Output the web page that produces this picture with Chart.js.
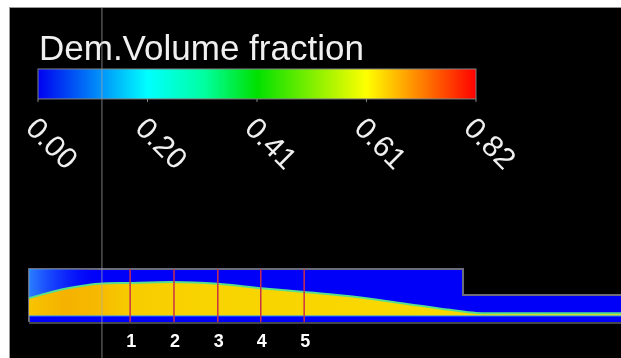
<!DOCTYPE html>
<html lang="en">
<head>
  <meta charset="UTF-8" />
  <title>Dem.Volume fraction</title>
  <script src="https://cdn.jsdelivr.net/npm/chart.js"></script>
  <style>
    html, body { margin: 0; padding: 0; background: #fff; }
    #frame {
      position: absolute; left: 9px; top: 7px;
      width: 612px; height: 351px;
      box-sizing: border-box;
      border-left: 1px solid #9a9a9a;
      border-top: 1px solid #9a9a9a;
      background: #000;
    }
    canvas { position: absolute; left: 0; top: 0; }
  </style>
</head>
<body>
  <div id="frame"><canvas id="field" width="611" height="350"></canvas></div>

  <script>
    // colour bar
    const cbTitle = "Dem.Volume fraction";
    const cbTicks = [0, 0.205, 0.41, 0.615, 0.82];
    const cbLabels = ["0.00", "0.20", "0.41", "0.61", "0.82"];

    // channel outline (length units along x, height units along y)
    const channelX = [0, 0, 100, 100, 137];
    const channelH = [0, 12.2, 12.2, 6.2, 6.2];

    // top of the particle bed
    const bedX = [0, 2.5, 7, 12, 16, 23, 33, 43.5, 53.5, 63.5, 75, 85.5, 97, 103, 110, 137];
    const bedH = [5.5, 6.2, 7.4, 8.3, 8.8, 9.0, 9.2, 8.8, 7.8, 6.9, 5.8, 4.4, 2.8, 2.1, 2.0, 2.0];
    const bedFloor = 1.4;

    // probe sections
    const probeX = [23.3, 33.4, 43.5, 53.4, 63.4];
    const probeLabels = ["1", "2", "3", "4", "5"];

    const cbTop = 58.3, cbBottom = 51.4;
    const font = '"Liberation Sans", Arial, sans-serif';

    function pts(xs, ys) { return xs.map((v, i) => ({ x: v, y: ys[i] })); }

    function jet(ctx) {
      const chart = ctx.chart;
      if (!chart.chartArea) return null;
      const s = chart.scales.xc;
      const g = chart.ctx.createLinearGradient(s.getPixelForValue(0), 0, s.getPixelForValue(0.82), 0);
      g.addColorStop(0, "#0000f0");
      g.addColorStop(0.25, "#00ffff");
      g.addColorStop(0.38, "#00ffa0");
      g.addColorStop(0.5, "#00e000");
      g.addColorStop(0.75, "#ffff00");
      g.addColorStop(1, "#ff0000");
      return g;
    }

    function bedFill(ctx) {
      const chart = ctx.chart;
      if (!chart.chartArea) return null;
      const s = chart.scales.x;
      const x0 = s.getPixelForValue(0), x1 = s.getPixelForValue(137);
      const g = chart.ctx.createLinearGradient(x0, 0, x1, 0);
      g.addColorStop(0, "#f8c400");
      g.addColorStop(0.06, "#f5b200");
      g.addColorStop(0.11, "#f6b800");
      g.addColorStop(0.17, "#f8cc00");
      g.addColorStop(0.3, "#f9d400");
      g.addColorStop(0.7, "#f9d800");
      g.addColorStop(1, "#ecdf10");
      return g;
    }

    function wedgeFill(ctx) {
      const chart = ctx.chart;
      if (!chart.chartArea) return null;
      const s = chart.scales.x;
      const g = chart.ctx.createLinearGradient(s.getPixelForValue(0), 0, s.getPixelForValue(17), 0);
      g.addColorStop(0, "rgba(50,150,255,0.85)");
      g.addColorStop(0.45, "rgba(30,90,255,0.5)");
      g.addColorStop(1, "rgba(0,0,250,0)");
      return g;
    }

    const labels = {
      id: "labels",
      beforeDatasetsDraw(chart) {
        const { ctx, scales: { x, y, xc } } = chart;
        const top = y.getPixelForValue(cbTop), bot = y.getPixelForValue(cbBottom);
        ctx.save();
        ctx.fillStyle = "#f0f0f0";
        ctx.font = "35px " + font;
        ctx.textBaseline = "alphabetic";
        ctx.fillText(cbTitle, xc.getPixelForValue(0) + 1, top - 9);

        ctx.font = "30px " + font;
        cbTicks.forEach((t, i) => {
          const px = xc.getPixelForValue(t);
          ctx.strokeStyle = "#888";
          ctx.lineWidth = 1;
          ctx.beginPath();
          ctx.moveTo(px, bot);
          ctx.lineTo(px, bot + 3);
          ctx.stroke();
          ctx.save();
          ctx.translate(px - 8, bot + 25);
          ctx.rotate(Math.PI / 4);
          ctx.textAlign = "left";
          ctx.textBaseline = "middle";
          ctx.fillText(cbLabels[i], 0, 0);
          ctx.restore();
        });

        ctx.fillStyle = "#ffffff";
        ctx.font = "bold 18px " + font;
        ctx.textAlign = "center";
        ctx.textBaseline = "middle";
        probeX.forEach((p, i) => {
          ctx.fillText(probeLabels[i], x.getPixelForValue(p) + 1, y.getPixelForValue(-4.7));
        });
        ctx.restore();
      },
      afterDatasetsDraw(chart) {
        const { ctx, scales: { y, xc } } = chart;
        const top = y.getPixelForValue(cbTop), bot = y.getPixelForValue(cbBottom);
        const l = xc.getPixelForValue(0), r = xc.getPixelForValue(0.82);
        ctx.save();
        ctx.strokeStyle = "#808080";
        ctx.lineWidth = 1;
        ctx.strokeRect(l, top, r - l, bot - top);
        ctx.restore();
      }
    };

    new Chart(document.getElementById("field"), {
      type: "line",
      data: {
        datasets: [
          {
            // stray vertical line
            data: pts([16.8, 16.8], [-8.3, 72.4]),
            borderColor: "rgba(170,170,170,0.7)", borderWidth: 1, order: 0
          },
          {
            data: pts([probeX[0], probeX[0]], [0, 12.2]),
            borderColor: "#c8304c", borderWidth: 1.5, order: 1
          },
          {
            data: pts([probeX[1], probeX[1]], [0, 12.2]),
            borderColor: "#c8304c", borderWidth: 1.5, order: 1
          },
          {
            data: pts([probeX[2], probeX[2]], [0, 12.2]),
            borderColor: "#c8304c", borderWidth: 1.5, order: 1
          },
          {
            data: pts([probeX[3], probeX[3]], [0, 12.2]),
            borderColor: "#c8304c", borderWidth: 1.5, order: 1
          },
          {
            data: pts([probeX[4], probeX[4]], [0, 12.2]),
            borderColor: "#c8304c", borderWidth: 1.5, order: 1
          },
          {
            // lower edge of the bed
            data: pts([0, 137], [bedFloor, bedFloor]),
            borderColor: "#2a90ff", borderWidth: 1, order: 4
          },
          {
            label: "bed",
            data: pts(bedX, bedH),
            borderColor: "#5ae088", borderWidth: 2,
            backgroundColor: bedFill, fill: { value: bedFloor },
            cubicInterpolationMode: "monotone", order: 5
          },
          {
            // inlet jet region
            data: pts([0, 17], [12.2, 12.2]),
            borderWidth: 0, borderColor: "rgba(0,0,0,0)",
            backgroundColor: wedgeFill, fill: { value: bedFloor }, order: 6
          },
          {
            label: "channel",
            data: pts(channelX, channelH),
            borderColor: "#6c6c7c", borderWidth: 2,
            backgroundColor: "#0000f8", fill: { value: 0 }, order: 8
          },
          {
            data: pts([0, 137], [-0.25, -0.25]),
            borderColor: "#5c5c66", borderWidth: 1.5, order: 9
          },
          {
            label: "colour bar",
            xAxisID: "xc",
            data: pts([0, 0.82], [cbTop, cbTop]),
            borderWidth: 0, borderColor: "rgba(0,0,0,0)",
            backgroundColor: jet, fill: { value: cbBottom }, order: 7
          }
        ]
      },
      options: {
        responsive: false,
        animation: false,
        layout: { padding: 0 },
        elements: { point: { radius: 0 }, line: { tension: 0 } },
        plugins: { legend: { display: false }, tooltip: { enabled: false } },
        scales: {
          x: { type: "linear", min: -4.38, max: 136.4, display: false },
          xc: { type: "linear", min: -0.0524, max: 1.0915, display: false },
          y: { type: "linear", min: -8.29, max: 72.35, display: false }
        }
      },
      plugins: [labels]
    });
  </script>
</body>
</html>
